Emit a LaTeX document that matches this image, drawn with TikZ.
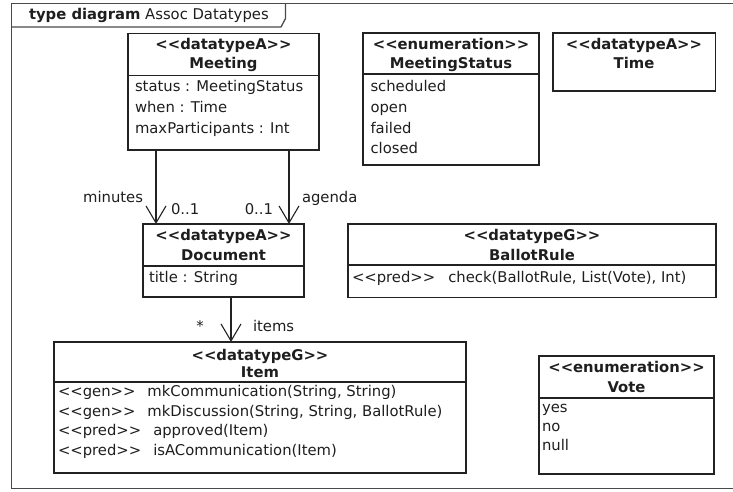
\documentclass[tikz,border=0pt]{standalone}
\usepackage{fontspec}
\setmainfont{DejaVu Sans}
\usetikzlibrary{arrows.meta}
\definecolor{boxc}{HTML}{222222}
\definecolor{framec}{HTML}{4A4A4A}
\definecolor{txt}{HTML}{1E1E1E}
\begin{document}
\begin{tikzpicture}[x=1pt,y=-1pt,
  every node/.style={inner sep=0pt, outer sep=0pt, text=txt, font=\fontsize{14.8}{18}\selectfont},
  cls/.style 2 args={draw=boxc, line width=1.1pt, anchor=north west, minimum width=#1pt, minimum height=#2pt},
  sepl/.style={draw=boxc, line width=1.1pt},
  st/.style={anchor=base, font=\fontsize{14.8}{18}\selectfont\bfseries},
  nm/.style={anchor=base, font=\fontsize{14.8}{18}\selectfont\bfseries},
  ln/.style={anchor=base west},
  assoc/.style={draw=boxc, line width=1.1pt, -{Straight Barb[length=17pt,width=20pt,line width=1.1pt]}}]
\useasboundingbox (0,0) rectangle (733,492);
% frame
\draw[framec, line width=1.6pt] (736,3.5) -- (11.5,3.5) -- (11.5,488.5) -- (736,488.5);
\draw[framec, line width=1.3pt] (11.5,27) -- (281,27) -- (285.5,18.5) -- (285.5,3.5);
\node[ln] (title) at (29,19.5) {\textbf{type diagram} Assoc Datatypes};
% Meeting
\node[cls={191}{116.5}] (meeting) at (128,33.5) {};
\draw[sepl] (128,75.5) -- (319,75.5);
\node[st] (meetingst) at (223.5,50) {<{}<datatypeA>{}>};
\node[nm] (meetingnm) at (223.5,69) {Meeting};
\node[ln] (m1) at (135,92) {status : MeetingStatus};
\node[ln] (m2) at (135,112.5) {when : Time};
\node[ln] (m3) at (135,133) {maxParticipants : Int};
% MeetingStatus
\node[cls={176}{132}] (mstatus) at (363,33) {};
\draw[sepl] (363,74) -- (539,74);
\node[st] (mstatusst) at (451,50) {<{}<enumeration>{}>};
\node[nm] (mstatusnm) at (451,69) {MeetingStatus};
\node[ln] (s1) at (370.5,92) {scheduled};
\node[ln] (s2) at (370.5,112.5) {open};
\node[ln] (s3) at (370.5,133) {failed};
\node[ln] (s4) at (370.5,153.5) {closed};
% Time
\node[cls={162.5}{58}] (time) at (553,33) {};
\node[st] (timest) at (634,50) {<{}<datatypeA>{}>};
\node[nm] (timenm) at (634,69) {Time};
% Document
\node[cls={161}{73}] (document) at (143,224) {};
\draw[sepl] (143,266) -- (304,266);
\node[st] (docst) at (223.5,240) {<{}<datatypeA>{}>};
\node[nm] (docnm) at (223.5,260) {Document};
\node[ln] (d1) at (149,282) {title : String};
% BallotRule
\node[cls={368}{73.5}] (ballot) at (348,224) {};
\draw[sepl] (348,265) -- (716,265);
\node[st] (ballotst) at (532,240) {<{}<datatypeG>{}>};
\node[nm] (ballotnm) at (532,260) {BallotRule};
\node[ln] (b1) at (352,282) {<{}<pred>{}>\hspace{13pt}check(BallotRule, List(Vote), Int)};
% Item
\node[cls={412}{131}] (item) at (54,342) {};
\draw[sepl] (54,382) -- (466,382);
\node[st] (itemst) at (260,360) {<{}<datatypeG>{}>};
\node[nm] (itemnm) at (260,377) {Item};
\node[ln] (i1) at (58,396.5) {<{}<gen>{}>\hspace{12pt}mkCommunication(String, String)};
\node[ln] (i2) at (58,416) {<{}<gen>{}>\hspace{12pt}mkDiscussion(String, String, BallotRule)};
\node[ln] (i3) at (58,435.5) {<{}<pred>{}>\hspace{12pt}approved(Item)};
\node[ln] (i4) at (58,455) {<{}<pred>{}>\hspace{12pt}isACommunication(Item)};
% Vote
\node[cls={175}{118}] (vote) at (539,356) {};
\draw[sepl] (539,398) -- (714,398);
\node[st] (votest) at (626.5,372) {<{}<enumeration>{}>};
\node[nm] (votenm) at (626.5,392) {Vote};
\node[ln] (v1) at (542,412) {yes};
\node[ln] (v2) at (542,431) {no};
\node[ln] (v3) at (542,450) {null};
% associations
\coordinate (mx) at (156,0);
\coordinate (ax) at (289,0);
\coordinate (ix) at (231,0);
\draw[assoc] (meeting.south -| mx) -- (document.north -| mx);
\draw[assoc] (meeting.south -| ax) -- (document.north -| ax);
\draw[assoc] (document.south -| ix) -- (item.north -| ix);
\node[anchor=base east] (lminutes) at (143,202.5) {minutes};
\node[ln] (lm01) at (171,214) {0..1};
\node[anchor=base east] (la01) at (273,214) {0..1};
\node[ln] (lagenda) at (302,202.5) {agenda};
\node[anchor=base] (lstar) at (200,331.5) {*};
\node[ln] (litems) at (253,331.5) {items};
\end{tikzpicture}
\end{document}
